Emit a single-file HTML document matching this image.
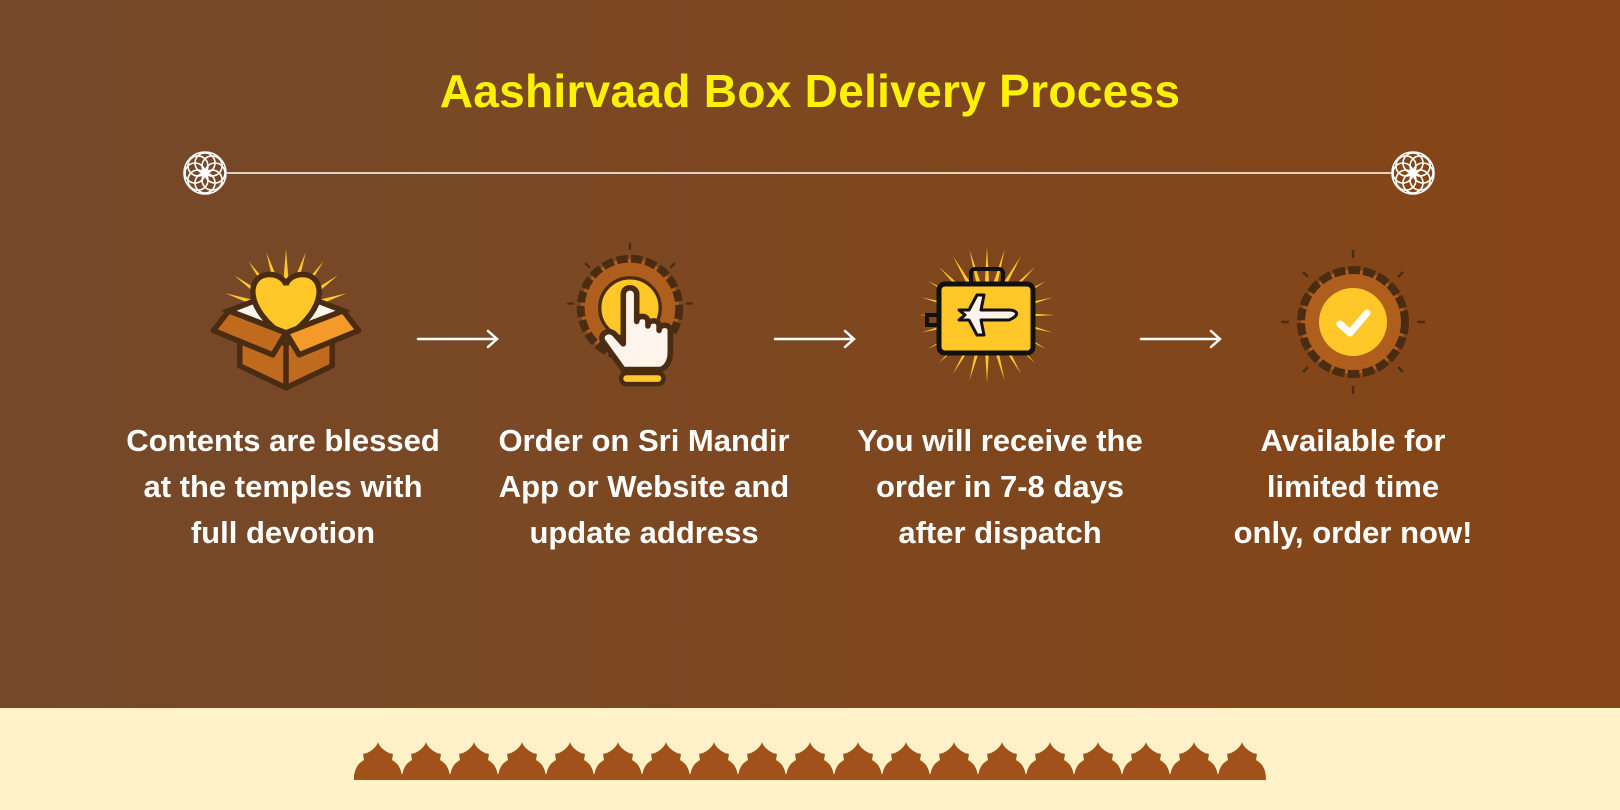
<!DOCTYPE html>
<html><head><meta charset="utf-8"><style>
html,body{margin:0;padding:0}
body{width:1620px;height:810px;position:relative;overflow:hidden;font-family:"Liberation Sans",sans-serif}
.top{position:absolute;left:0;top:0;width:1620px;height:708px;background:linear-gradient(90deg,#74492a,#864516)}
.bot{position:absolute;left:0;top:708px;width:1620px;height:102px;background:#fff2c9}
h1{position:absolute;left:0;width:1620px;top:64px;margin:0;text-align:center;color:#fff200;font-size:46px;font-weight:bold;letter-spacing:0.3px}
.t{position:absolute;width:400px;text-align:center;color:#fff;font-size:31px;font-weight:bold;line-height:46px;top:418px;white-space:nowrap;letter-spacing:0px}
svg{position:absolute;left:0;top:0}
</style></head><body>
<div class="top"></div><div class="bot"></div>
<h1>Aashirvaad Box Delivery Process</h1>
<div class="t" style="left:83px">Contents are blessed<br>at the temples with<br>full devotion</div>
<div class="t" style="left:444px">Order on Sri Mandir<br>App or Website and<br>update address</div>
<div class="t" style="left:800px">You will receive the<br>order in 7-8 days<br>after dispatch</div>
<div class="t" style="left:1153px">Available for<br>limited time<br>only, order now!</div>
<svg width="1620" height="810" viewBox="0 0 1620 810">
<defs>
<g id="mand" fill="none" stroke="#fff" stroke-width="1.6">
<circle r="21"/>
<g id="pet"><circle cx="0" cy="-10" r="10"/></g>
<use href="#pet" transform="rotate(45)"/><use href="#pet" transform="rotate(90)"/><use href="#pet" transform="rotate(135)"/>
<use href="#pet" transform="rotate(180)"/><use href="#pet" transform="rotate(225)"/><use href="#pet" transform="rotate(270)"/><use href="#pet" transform="rotate(315)"/>
</g>
<g id="arr" fill="none" stroke="#fff" stroke-width="2.5" stroke-linecap="round"><path d="M0 0H78M70 -8L79 0L70 8"/></g>
<path id="r1" d="M-4 -10L0 -58L4 -10Z"/>
<path id="r2" d="M-4 0L0 -68L4 0Z"/>
<path id="dome" d="M0 38 C0 28 3 22 10 18 L9 12 L13 11 C19 8 23 4 24 0 C25 4 29 8 35 11 L39 12 L38 18 C45 22 48 28 48 38Z"/>
</defs>
<line x1="227" y1="173" x2="1392" y2="173" stroke="#fff" stroke-width="1.6"/>
<use href="#mand" x="205" y="173"/><use href="#mand" x="1413" y="173"/>
<use href="#arr" x="418" y="339"/><use href="#arr" x="775" y="339"/><use href="#arr" x="1141" y="339"/>
<g transform="translate(286,313) scale(1.1)">
<g fill="#ffc727">
<use href="#r1"/><use href="#r1" transform="rotate(18)"/><use href="#r1" transform="rotate(-18)"/>
<use href="#r1" transform="rotate(36)"/><use href="#r1" transform="rotate(-36)"/>
<use href="#r1" transform="rotate(54)"/><use href="#r1" transform="rotate(-54)"/>
<use href="#r1" transform="rotate(72)"/><use href="#r1" transform="rotate(-72)"/>
</g>
<path d="M-52 -2L0 -22L52 -2L0 18Z" fill="#fff6ee" stroke="#4a2c12" stroke-width="5"/>
<path d="M0 22C-40 -5 -35 -35 -15 -35C-5 -35 0 -28 0 -25C0 -28 5 -35 15 -35C35 -35 40 -5 0 22Z" fill="#ffc727" stroke="#4a2c12" stroke-width="5"/>
<path d="M-42 8L0 28L42 8V48L0 68L-42 48Z" fill="#c06a1e" stroke="#4a2c12" stroke-width="5" stroke-linejoin="round"/>
<line x1="0" y1="28" x2="0" y2="68" stroke="#4a2c12" stroke-width="5"/>
<path d="M-52 -2L0 18L-12 38L-66 16Z" fill="#c06a1e" stroke="#4a2c12" stroke-width="5" stroke-linejoin="round"/>
<path d="M52 -2L0 18L12 38L66 16Z" fill="#f49a2a" stroke="#4a2c12" stroke-width="5" stroke-linejoin="round"/>
</g>
<g transform="translate(630,308) scale(1.12)">
<circle r="44" fill="#b05e1d" stroke="#4a2c12" stroke-width="7" stroke-dasharray="10 3"/>
<circle r="27" fill="#ffc727" stroke="#4a2c12" stroke-width="3"/>
<g stroke="#4a2c12" stroke-width="2"><line x1="0" y1="-58" x2="0" y2="-52"/><line x1="-56" y1="-4" x2="-50" y2="-4"/><line x1="56" y1="-4" x2="50" y2="-4"/><line x1="-40" y1="-40" x2="-36" y2="-36"/><line x1="40" y1="-40" x2="36" y2="-36"/></g>
<path d="M-6 55L-24 30C-28 24 -20 18 -14 23L-6 32V-12C-6 -20 6 -20 6 -12V12C6 6 16 6 16 12V16C16 10 26 10 26 16V20C26 14 36 14 36 20V40C36 50 30 55 26 55Z" fill="#fff4ec" stroke="#4a2c12" stroke-width="5" stroke-linejoin="round"/>
<rect x="-8" y="58" width="38" height="10" rx="5" fill="#ffc727" stroke="#4a2c12" stroke-width="4"/>
</g>
<g transform="translate(987,315)">
<g fill="#ffc727">
<use href="#r2"/><use href="#r2" transform="rotate(15)"/><use href="#r2" transform="rotate(30)"/><use href="#r2" transform="rotate(45)"/><use href="#r2" transform="rotate(60)"/><use href="#r2" transform="rotate(75)"/><use href="#r2" transform="rotate(90)"/><use href="#r2" transform="rotate(105)"/><use href="#r2" transform="rotate(120)"/><use href="#r2" transform="rotate(135)"/><use href="#r2" transform="rotate(150)"/><use href="#r2" transform="rotate(165)"/><use href="#r2" transform="rotate(180)"/><use href="#r2" transform="rotate(195)"/><use href="#r2" transform="rotate(210)"/><use href="#r2" transform="rotate(225)"/><use href="#r2" transform="rotate(240)"/><use href="#r2" transform="rotate(255)"/><use href="#r2" transform="rotate(270)"/><use href="#r2" transform="rotate(285)"/><use href="#r2" transform="rotate(300)"/><use href="#r2" transform="rotate(315)"/><use href="#r2" transform="rotate(330)"/><use href="#r2" transform="rotate(345)"/>
</g>
<rect x="-16" y="-46" width="32" height="20" rx="4" fill="none" stroke="#111" stroke-width="4"/>
<rect x="-48" y="-31" width="94" height="69" rx="6" fill="#ffc727" stroke="#111" stroke-width="5"/>
<path d="M-48 0H-60V10H-48" fill="none" stroke="#111" stroke-width="4"/>
<path d="M-28 -5H-18L-10 -20H-3L-6 -5H22C30 -5 34 0 22 5H-6L-3 20H-10L-18 5H-28L-22 0Z" fill="#fff4ec" stroke="#111" stroke-width="3" stroke-linejoin="round"/>
</g>
<g transform="translate(1353,322)">
<circle r="52" fill="#b05e1d" stroke="#4a2c12" stroke-width="8" stroke-dasharray="12 3"/>
<circle r="34" fill="#ffc727"/>
<path d="M-13 2L-3 11L14 -9" fill="none" stroke="#fff" stroke-width="7" stroke-linecap="round" stroke-linejoin="round"/>
<g stroke="#4a2c12" stroke-width="2.5"><line x1="0" y1="-72" x2="0" y2="-64"/><line x1="0" y1="72" x2="0" y2="64"/><line x1="-72" y1="0" x2="-64" y2="0"/><line x1="72" y1="0" x2="64" y2="0"/><line x1="-50" y1="-50" x2="-45" y2="-45"/><line x1="50" y1="-50" x2="45" y2="-45"/><line x1="-50" y1="50" x2="-45" y2="45"/><line x1="50" y1="50" x2="45" y2="45"/></g>
</g>
<g fill="#a0521a">
<rect x="354" y="774" width="911" height="6"/>
<use href="#dome" x="354" y="742"/><use href="#dome" x="402" y="742"/><use href="#dome" x="450" y="742"/><use href="#dome" x="498" y="742"/><use href="#dome" x="546" y="742"/><use href="#dome" x="594" y="742"/><use href="#dome" x="642" y="742"/><use href="#dome" x="690" y="742"/><use href="#dome" x="738" y="742"/><use href="#dome" x="786" y="742"/><use href="#dome" x="834" y="742"/><use href="#dome" x="882" y="742"/><use href="#dome" x="930" y="742"/><use href="#dome" x="978" y="742"/><use href="#dome" x="1026" y="742"/><use href="#dome" x="1074" y="742"/><use href="#dome" x="1122" y="742"/><use href="#dome" x="1170" y="742"/><use href="#dome" x="1218" y="742"/>
</g>
</svg>
</body></html>
